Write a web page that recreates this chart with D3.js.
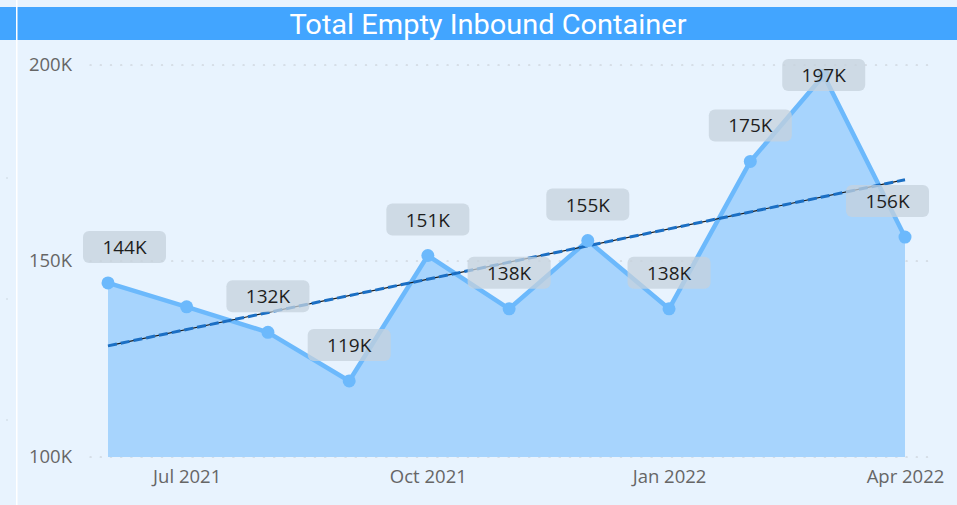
<!DOCTYPE html>
<html>
<head>
<meta charset="utf-8">
<script src="https://cdn.jsdelivr.net/npm/d3@7"></script>
<style>
  html, body { margin: 0; padding: 0; background: #e8f3fe; }
  svg { display: block; }
</style>
</head>
<body>
<div id="chart"></div>
<script>
var W = 957, H = 505;

// data
var months = ["2021-06", "2021-07", "2021-08", "2021-09", "2021-10", "2021-11",
              "2021-12", "2022-01", "2022-02", "2022-03", "2022-04"];
var values = [144400, 138300, 131800, 119400, 151400, 137800,
              155200, 137800, 175400, 197400, 156100];
var showLabel = [true, false, true, true, true, true, true, true, true, true, true];
var yTicks = [100000, 150000, 200000];
var xTicks = ["2021-07", "2021-10", "2022-01", "2022-04"];
var title = "Total Empty Inbound Container";

var parse = d3.timeParse("%Y-%m");
var data = months.map(function(m, i) {
  return { date: parse(m), value: values[i], label: showLabel[i] };
});

var svg = d3.select("#chart").append("svg")
  .attr("width", W).attr("height", H);

svg.append("rect").attr("width", W).attr("height", H).attr("fill", "#e8f3fe");

// title bar
svg.append("rect").attr("x", 0).attr("y", 7).attr("width", W).attr("height", 33)
  .attr("fill", "#42a5ff");
svg.append("rect").attr("x", 16).attr("y", 0).attr("width", 1.5).attr("height", H)
  .attr("fill", "#ffffff");
svg.append("text")
  .attr("x", 488).attr("y", 34)
  .attr("text-anchor", "middle")
  .attr("font-family", "Roboto, 'DejaVu Sans', sans-serif")
  .attr("font-size", 27)
  .attr("font-weight", 400)
  .attr("textLength", 397)
  .attr("lengthAdjust", "spacingAndGlyphs")
  .attr("fill", "#ffffff")
  .text(title);

// small dots on the left edge
[178, 299, 420].forEach(function(y) {
  svg.append("circle").attr("cx", 7).attr("cy", y).attr("r", 0.8).attr("fill", "#c9d3dc");
});

var x = d3.scaleTime()
  .domain([parse("2021-06"), parse("2022-04")])
  .range([108, 905]);
var y = d3.scaleLinear()
  .domain([100000, 200000])
  .range([457, 65]);

// gridlines
svg.append("g").selectAll("line").data(yTicks).join("line")
  .attr("x1", 90).attr("x2", 935)
  .attr("y1", function(d) { return y(d); })
  .attr("y2", function(d) { return y(d); })
  .attr("stroke", "#c4c9cf")
  .attr("stroke-width", 1.2)
  .attr("stroke-dasharray", "1.2,9")
  .attr("stroke-linecap", "round");

// y axis labels
var yAxis = d3.axisLeft(y).tickValues(yTicks)
  .tickFormat(function(d) { return (d / 1000) + "K"; })
  .tickSize(0).tickPadding(0);
var gy = svg.append("g").attr("transform", "translate(72,0)").call(yAxis);
gy.select(".domain").remove();
gy.selectAll("text")
  .attr("font-family", "'Open Sans', 'Noto Sans', sans-serif")
  .attr("font-size", 18.5)
  .attr("fill", "#666666");

// area
var area = d3.area()
  .x(function(d) { return x(d.date); })
  .y0(y(100000))
  .y1(function(d) { return y(d.value); });
svg.append("path").datum(data)
  .attr("d", area)
  .attr("fill", "#a7d4fd");

// line
var line = d3.line()
  .x(function(d) { return x(d.date); })
  .y(function(d) { return y(d.value); });
svg.append("path").datum(data)
  .attr("d", line)
  .attr("fill", "none")
  .attr("stroke", "#6cb9fc")
  .attr("stroke-width", 4.5)
  .attr("stroke-linejoin", "round");

// linear trend
var n = data.length;
var mx = d3.mean(data, function(d, i) { return i; });
var my = d3.mean(data, function(d) { return d.value; });
var sxy = d3.sum(data, function(d, i) { return (i - mx) * (d.value - my); });
var sxx = d3.sum(data, function(d, i) { return (i - mx) * (i - mx); });
var slope = sxy / sxx, icpt = my - slope * mx;
var trend = [
  { date: data[0].date, value: icpt },
  { date: data[n - 1].date, value: icpt + slope * (n - 1) }
];
svg.append("path").datum(trend)
  .attr("d", line)
  .attr("stroke", "#1a1a1a").attr("stroke-width", 1.2).attr("fill", "none");
svg.append("path").datum(trend)
  .attr("d", line)
  .attr("stroke", "#1b6fc4").attr("stroke-width", 3).attr("fill", "none")
  .attr("stroke-dasharray", "9,4");

// markers
svg.append("g").selectAll("circle").data(data).join("circle")
  .attr("cx", function(d) { return x(d.date); })
  .attr("cy", function(d) { return y(d.value); })
  .attr("r", 6.5)
  .attr("fill", "#6cb9fc");

// x axis labels
var xAxis = d3.axisBottom(x)
  .tickValues(xTicks.map(parse))
  .tickFormat(d3.timeFormat("%b %Y"))
  .tickSize(0).tickPadding(0);
var gx = svg.append("g").attr("transform", "translate(0,470)").call(xAxis);
gx.select(".domain").remove();
gx.selectAll("text")
  .attr("font-family", "'Open Sans', 'Noto Sans', sans-serif")
  .attr("font-size", 18.5)
  .attr("fill", "#666666");

// data labels
var bw = 83, bh = 32;
var lab = svg.append("g").selectAll("g").data(data.filter(function(d) { return d.label; }))
  .join("g")
  .attr("transform", function(d) {
    var cx = Math.max(83 + bw / 2, Math.min(929 - bw / 2, x(d.date)));
    var top = Math.max(59, y(d.value) - 20 - bh);
    return "translate(" + (cx - bw / 2) + "," + top + ")";
  });
lab.append("rect")
  .attr("width", bw).attr("height", bh).attr("rx", 6)
  .attr("fill", "#c6d1dc").attr("fill-opacity", 0.75);
lab.append("text")
  .attr("x", bw / 2).attr("y", bh / 2 + 7)
  .attr("text-anchor", "middle")
  .attr("font-family", "'Open Sans', 'Noto Sans', sans-serif")
  .attr("font-size", 19)
  .attr("fill", "#1e1e1e")
  .text(function(d) { return Math.round(d.value / 1000) + "K"; });
</script>
</body>
</html>
